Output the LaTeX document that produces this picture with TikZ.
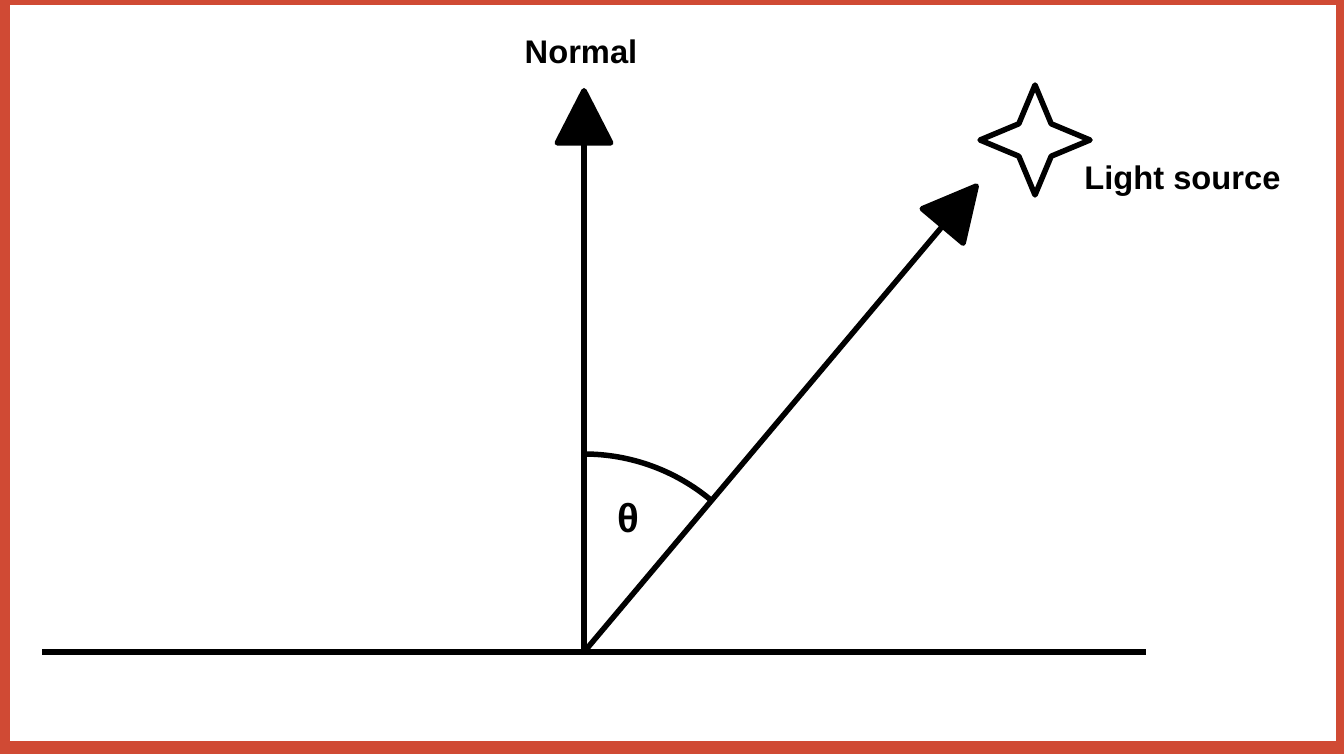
\documentclass[tikz,border=0pt]{standalone}
\usepackage{fontspec}
\setmainfont{Liberation Sans}
\usetikzlibrary{shapes.geometric, arrows.meta, positioning}
\definecolor{frame}{HTML}{D04A34}

\begin{document}
\begin{tikzpicture}[
  x=0.02cm, y=0.02cm,
  line/.style={line width=0.11cm, draw=black},
  arrow/.style={line, -{Triangle[length=1.22cm, width=1.22cm, round]}},
  lbl/.style={font=\bfseries\fontsize{18.6}{22}\selectfont, inner sep=0pt},
  lamp/.style={star, star points=4, star point ratio=2.4, minimum size=2.2cm, draw=black, line width=0.11cm, line join=round, inner sep=0pt}
]
  % frame and canvas
  \fill[frame] (0,0) rectangle (1344,754);
  \fill[white] (10,13) rectangle (1336,749);

  \coordinate (gl) at (42,102);
  \coordinate (gr) at (1146,102);
  \coordinate (o) at (584,102);
  \coordinate (ntip) at (584,666);
  \coordinate (ltip) at (978,570);

  \node[lbl, anchor=base] (normal) at (581,690) {Normal};
  \node[lamp] (light) at (1035,614) {};
  \node[lbl, anchor=base west] (lightlbl) at (1084,564) {Light source};
  \node[font=\bfseries\fontsize{23}{27}\selectfont, inner sep=0pt, anchor=base] (theta) at (628,222) {θ};

  \draw[line] (gl) -- (gr);
  \draw[arrow] (o) -- (ntip);
  \draw[arrow] (o) -- (ltip);
  \draw[line] (o) ++(90:198) arc[start angle=90, end angle=49.8, radius=198];
\end{tikzpicture}
\end{document}
